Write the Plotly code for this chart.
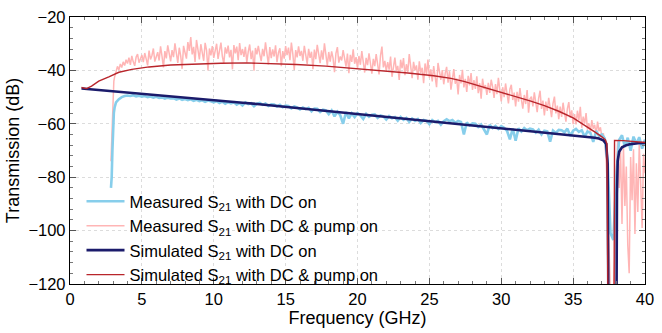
import numpy as np
import plotly.graph_objects as go

# ---------------- data ----------------
# Measured S21, DC & pump on (pink): onset points + 0.1 GHz grid from 3.1 to 40.0 GHz
meas_pump_onset_f = [2.85, 2.90, 2.95, 3.00, 3.05]
meas_pump_onset_v = [-74.0, -66.0, -56.0, -48.0, -44.0]
meas_pump_grid_v = [
    -42.5, -40.0, -38.5, -39.8, -37.6, -38.9, -36.8, -38.2, -36.0, -37.4,   # 3.1-4.0
    -35.2, -37.9, -34.6, -36.8, -38.3, -35.0, -33.9, -37.1, -35.8, -34.2,   # 4.1-5.0
    -36.9, -33.5, -35.7, -38.1, -32.6, -35.9, -34.4, -31.8, -36.7, -34.9,   # 5.1-6.0
    -33.2, -36.3, -31.0, -34.7, -38.9, -32.8, -35.5, -30.6, -34.1, -36.6,   # 6.1-7.0
    -32.4, -35.0, -29.9, -33.8, -37.2, -31.5, -34.6, -39.4, -30.8, -33.3,   # 7.1-8.0
    -35.6, -29.4, -32.7, -27.5, -34.0, -31.2, -36.8, -28.6, -33.5, -35.9,   # 8.1-9.0
    -30.2, -33.9, -36.4, -29.7, -32.5, -40.0, -31.8, -34.4, -30.9, -35.3,   # 9.1-10.0
    -32.9, -30.0, -35.7, -33.1, -29.6, -34.8, -37.5, -31.4, -33.7, -30.7,   # 10.1-11.0
    -35.1, -32.3, -39.6, -30.5, -33.6, -31.1, -36.2, -29.8, -34.3, -32.0,   # 11.1-12.0
    -34.9, -31.2, -37.0, -33.0, -30.3, -35.8, -32.6, -40.1, -31.6, -34.0,   # 12.1-13.0
    -30.8, -33.9, -36.5, -31.9, -34.7, -29.5, -33.2, -37.8, -31.3, -35.4,   # 13.1-14.0
    -32.1, -34.8, -30.6, -36.9, -33.4, -31.7, -38.4, -32.8, -35.6, -30.9,   # 14.1-15.0
    -34.3, -31.5, -36.2, -29.6, -33.8, -39.8, -32.4, -35.1, -31.0, -34.6,   # 15.1-16.0
    -32.7, -36.4, -30.8, -34.9, -37.6, -31.9, -35.3, -33.0, -39.5, -32.2,   # 16.1-17.0
    -35.8, -30.4, -34.1, -37.3, -32.5, -36.0, -29.9, -34.6, -38.2, -33.1,   # 17.1-18.0
    -36.7, -32.9, -35.4, -40.7, -33.6, -31.3, -37.1, -34.8, -36.3, -32.4,   # 18.1-19.0
    -35.5, -38.6, -33.7, -41.0, -34.2, -36.8, -32.1, -37.5, -35.0, -39.3,   # 19.1-20.0
    -34.6, -37.9, -32.8, -36.1, -40.8, -35.3, -38.0, -33.6, -36.9, -41.2,   # 20.1-21.0
    -35.7, -38.4, -33.9, -37.2, -41.5, -34.5, -31.1, -38.9, -36.4, -40.3,   # 21.1-22.0
    -36.9, -39.7, -34.8, -42.4, -37.6, -35.2, -40.1, -38.3, -43.6, -36.0,   # 22.1-23.0
    -39.2, -35.4, -41.8, -37.7, -40.6, -33.9, -38.5, -42.9, -36.8, -40.0,   # 23.1-24.0
    -38.1, -43.5, -36.6, -40.9, -39.0, -44.8, -37.4, -41.6, -35.9, -42.7,   # 24.1-25.0
    -39.6, -44.1, -38.4, -42.0, -46.3, -37.2, -40.8, -43.5, -39.9, -45.2,   # 25.1-26.0
    -41.1, -38.7, -44.6, -40.3, -47.2, -42.5, -39.5, -45.0, -43.0, -49.0,   # 26.1-27.0
    -41.7, -44.9, -39.8, -46.4, -43.2, -48.1, -42.0, -45.6, -41.0, -47.3,   # 27.1-28.0
    -43.6, -46.9, -42.2, -48.5, -44.8, -50.6, -43.1, -47.0, -45.5, -49.2,   # 28.1-29.0
    -44.7, -48.4, -43.5, -46.2, -50.3, -45.1, -48.9, -42.8, -47.5, -51.6,   # 29.1-30.0
    -46.3, -50.0, -44.9, -49.2, -52.4, -47.0, -45.4, -51.1, -48.3, -53.5,   # 30.1-31.0
    -48.0, -51.7, -46.6, -50.9, -54.3, -49.2, -52.6, -47.4, -55.8, -50.6,   # 31.1-32.0
    -49.8, -53.5, -48.2, -52.0, -55.6, -50.5, -47.6, -54.4, -51.3, -56.9,   # 32.1-33.0
    -51.7, -55.2, -50.3, -53.9, -57.5, -52.4, -49.8, -56.1, -53.2, -58.3,   # 33.1-34.0
    -53.6, -57.4, -52.1, -55.9, -59.2, -54.3, -51.9, -57.8, -55.0, -60.1,   # 34.1-35.0
    -56.4, -60.2, -55.1, -58.7, -53.6, -61.5, -57.3, -59.9, -56.0, -62.2,   # 35.1-36.0
    -59.8, -63.1, -58.6, -61.9, -60.4, -64.0, -59.2, -62.8, -61.3, -65.0,   # 36.1-37.0
    -63.5, -67.0, -74.0, -88.0, -105.0, -125.0, -125.0, -125.0, -110.0, -78.0,  # 37.1-38.0
    -66.5, -84.0, -70.2, -97.5, -68.3, -90.8, -76.0, -105.2, -116.0, -72.4,  # 38.1-39.0
    -88.6, -69.5, -101.3, -74.8, -93.0, -67.9, -82.5, -99.0, -71.2, -78.5,  # 39.1-40.0
]

# Measured S21, DC on (light blue): onset points + 0.2 GHz grid from 3.2 to 40.0 GHz
meas_dc_onset_f = [2.85, 2.90, 2.95, 3.00, 3.05, 3.10]
meas_dc_onset_v = [-84.0, -80.0, -70.0, -60.0, -56.0, -54.0]
meas_dc_grid_v = [
    -52.0, -50.8, -50.0, -49.6, -49.4,   # 3.2-4.0
    -49.6, -49.3, -49.7, -49.5, -49.8,   # 4.2-5.0
    -49.6, -50.0, -49.8, -50.2, -49.9,   # 5.2-6.0
    -50.3, -50.1, -50.6, -50.2, -50.5,   # 6.2-7.0
    -50.4, -50.9, -50.5, -51.0, -50.7,   # 7.2-8.0
    -51.1, -50.8, -51.4, -51.0, -51.5,   # 8.2-9.0
    -51.2, -51.8, -51.3, -51.6, -52.0,   # 9.2-10.0
    -51.5, -52.2, -51.7, -52.5, -51.9,   # 10.2-11.0
    -52.3, -51.9, -52.8, -52.2, -53.1,   # 11.2-12.0
    -52.0, -52.6, -52.3, -53.4, -52.5,   # 12.2-13.0
    -52.2, -52.9, -52.4, -53.3, -52.7,   # 13.2-14.0
    -52.8, -53.5, -52.9, -53.8, -53.2,   # 14.2-15.0
    -53.3, -54.2, -53.5, -53.9, -54.6,   # 15.2-16.0
    -53.9, -54.5, -54.0, -55.3, -54.3,   # 16.2-17.0
    -54.4, -55.6, -54.7, -55.0, -56.4,   # 17.2-18.0
    -55.0, -57.2, -55.5, -56.8, -60.0,   # 18.2-19.0
    -55.6, -58.0, -56.1, -57.5, -56.0,   # 19.2-20.0
    -56.9, -58.2, -56.3, -57.4, -56.6,   # 20.2-21.0
    -56.5, -57.8, -56.9, -57.2, -58.4,   # 21.2-22.0
    -57.1, -57.9, -57.5, -58.8, -57.4,   # 22.2-23.0
    -58.5, -57.8, -59.3, -58.0, -58.9,   # 23.2-24.0
    -58.2, -59.7, -58.6, -58.9, -60.1,   # 24.2-25.0
    -58.6, -59.4, -58.9, -60.3, -59.0,   # 25.2-26.0
    -58.3, -59.0, -58.6, -59.6, -58.9,   # 26.2-27.0
    -59.3, -64.0, -59.5, -60.6, -59.8,   # 27.2-28.0
    -60.0, -61.2, -60.3, -62.0, -64.0,   # 28.2-29.0
    -60.4, -61.6, -60.8, -61.9, -60.9,   # 29.2-30.0
    -61.5, -62.6, -65.8, -61.8, -66.3,   # 30.2-31.0
    -61.7, -62.9, -61.6, -62.4, -61.8,   # 31.2-32.0
    -62.1, -63.3, -62.2, -64.0, -62.6,   # 32.2-33.0
    -62.8, -66.7, -62.5, -63.4, -62.3,   # 33.2-34.0
    -62.4, -63.2, -61.8, -64.5, -62.6,   # 34.2-35.0
    -61.9, -63.0, -62.4, -64.8, -62.9,   # 35.2-36.0
    -63.4, -66.8, -62.7, -64.6, -64.0,   # 36.2-37.0
    -65.5, -74.0, -101.0, -103.5, -80.0,  # 37.2-38.0
    -66.0, -64.3, -68.7, -65.2, -70.1,   # 38.2-39.0
    -64.8, -67.5, -65.0, -69.3, -65.9,   # 39.2-40.0
]

# Simulated S21, DC on (navy)
sim_dc_f = [0.8, 2, 3, 4, 5, 6, 7, 8, 9, 10, 11, 12, 13, 14, 15, 16, 17, 18, 19, 20,
            21, 22, 23, 24, 25, 26, 27, 28, 29, 30, 31, 32, 33, 34, 35, 36, 36.5, 36.8,
            37.1, 37.3, 37.4, 37.45, 38.02, 38.05, 38.1, 38.2, 38.4, 38.7, 39.0, 39.5, 40.0]
sim_dc_v = [-46.8, -47.4, -47.85, -48.33, -48.8, -49.28, -49.75, -50.23, -50.7, -51.18,
            -51.65, -52.13, -52.57, -53.1, -53.63, -54.16, -54.69, -55.22, -55.75, -56.28,
            -56.81, -57.34, -57.87, -58.4, -58.93, -59.46, -59.99, -60.52, -61.05, -61.58,
            -62.1, -62.6, -63.2, -63.7, -64.2, -64.8, -65.2, -65.5,
            -66.2, -67.5, -75.0, -125.0, -125.0, -86.0, -74.0, -70.5, -68.8, -68.0, -67.6, -67.3, -67.2]

# Simulated S21, DC & pump on (red)
sim_pump_f = [0.8, 1.15, 1.5, 2.0, 2.7, 3.4, 4.3, 5.5, 7, 8.9, 10.5, 12.3, 14, 15.75, 17.8,
              19.5, 21.9, 23.5, 25.3, 26.5, 27.4, 28.8, 30.0, 31.0, 32.0, 33.0, 34.0, 35.0,
              35.6, 36.0, 36.5, 37.0, 37.25, 37.35, 37.42, 37.85, 37.88, 38.5, 39.0, 39.5, 40.0]
sim_pump_v = [-46.4, -46.8, -45.9, -44.0, -42.4, -40.7, -39.6, -38.7, -38.0, -37.5, -37.3,
              -37.2, -37.4, -37.8, -38.4, -39.1, -40.2, -41.0, -42.0, -43.0, -44.1, -46.3,
              -48.0, -49.7, -51.4, -53.2, -55.3, -57.8, -59.8, -61.3, -63.0, -64.9, -66.0,
              -67.5, -125.0, -125.0, -66.2, -66.3, -66.5, -66.8, -67.0]

x_ticks = [0, 5, 10, 15, 20, 25, 30, 35, 40]
y_ticks = [-120, -100, -80, -60, -40, -20]

# frequency grids of the measured traces
meas_pump_f = meas_pump_onset_f + [round(v, 2) for v in np.arange(3.1, 40.0001, 0.1)]
meas_pump_v = meas_pump_onset_v + meas_pump_grid_v
meas_dc_f = meas_dc_onset_f + [round(v, 2) for v in np.arange(3.2, 40.0001, 0.2)]
meas_dc_v = meas_dc_onset_v + meas_dc_grid_v
assert len(meas_pump_f) == len(meas_pump_v), (len(meas_pump_f), len(meas_pump_v))
assert len(meas_dc_f) == len(meas_dc_v), (len(meas_dc_f), len(meas_dc_v))

# ---------------- figure ----------------
C_PINK = "#ffb5b5"
C_BLUE = "#87ceeb"
C_NAVY = "#1b1b6b"
C_RED = "#b8252b"

fig = go.Figure()
fig.add_trace(go.Scatter(x=meas_pump_f, y=meas_pump_v, mode="lines",
                         line=dict(color=C_PINK, width=1.5),
                         name="Measured S<sub>21</sub> with DC &amp; pump on", legendrank=2))
fig.add_trace(go.Scatter(x=meas_dc_f, y=meas_dc_v, mode="lines",
                         line=dict(color=C_BLUE, width=2.6),
                         name="Measured S<sub>21</sub> with DC on", legendrank=1))
fig.add_trace(go.Scatter(x=sim_dc_f, y=sim_dc_v, mode="lines",
                         line=dict(color=C_NAVY, width=2.6),
                         name="Simulated S<sub>21</sub> with DC on", legendrank=3))
fig.add_trace(go.Scatter(x=sim_pump_f, y=sim_pump_v, mode="lines",
                         line=dict(color=C_RED, width=1.4),
                         name="Simulated S<sub>21</sub> with DC &amp; pump on", legendrank=4))

axis_common = dict(
    showline=True, linecolor="black", linewidth=1.3, mirror="ticks",
    ticks="inside", ticklen=6, tickwidth=1, tickcolor="#555",
    showgrid=True, gridcolor="#dcdcdc", griddash="dot", gridwidth=1,
    zeroline=False, ticklabeloverflow="allow",
    tickfont=dict(size=16.5, color="black"),
)
fig.update_xaxes(range=[0, 40], tickvals=x_ticks,
                 minor=dict(dtick=1, tick0=0, ticks="inside", ticklen=3, tickcolor="#777", showgrid=False),
                 title=dict(text="Frequency (GHz)", font=dict(size=18), standoff=4),
                 **axis_common)
fig.update_yaxes(range=[-120, -20], tickvals=y_ticks,
                 minor=dict(dtick=4, tick0=-120, ticks="inside", ticklen=3, tickcolor="#777", showgrid=False),
                 title=dict(text="Transmission (dB)", font=dict(size=18), standoff=4),
                 **axis_common)

fig.update_layout(
    width=662, height=333,
    margin=dict(l=70, r=8, t=14, b=45),
    paper_bgcolor="white", plot_bgcolor="white",
    font=dict(family="Liberation Sans, Arial, sans-serif", size=15, color="black"),
    showlegend=True,
    legend=dict(x=0.02, y=-0.03, xanchor="left", yanchor="bottom",
                bgcolor="rgba(0,0,0,0)", font=dict(size=16.5), tracegroupgap=0,
                itemwidth=38),
)

fig.write_html("out.html")
